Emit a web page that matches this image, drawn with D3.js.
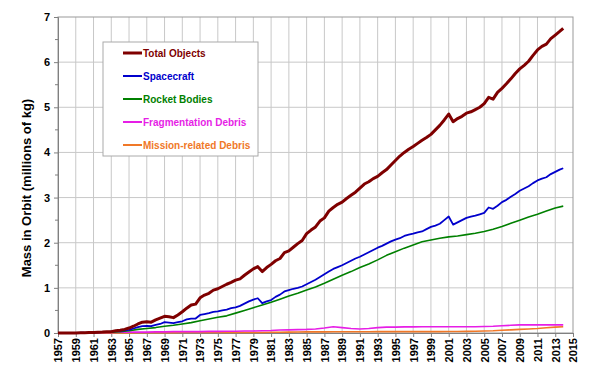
<!DOCTYPE html>
<html lang="en">
<head>
<meta charset="utf-8">
<title>Mass in Orbit</title>
<script src="https://cdn.jsdelivr.net/npm/d3@7"></script>
<style>
  body { margin: 0; background: #fff; }
  text { font-family: "Liberation Sans", Arial, sans-serif; font-weight: bold; }
</style>
</head>
<body>
<script>
// half-year samples for the two noisy series
var halfYears = d3.range(1957, 2014.01, 0.5);
var totalObjects = [
  0.00, 0.00, 0.00, 0.00, 0.00, 0.005, 0.005, 0.01, 0.01, 0.015,
  0.02, 0.03, 0.03, 0.05, 0.06, 0.08, 0.11, 0.15, 0.20, 0.24,
  0.25, 0.24, 0.29, 0.33, 0.37, 0.36, 0.34, 0.40, 0.47, 0.55,
  0.62, 0.64, 0.78, 0.84, 0.88, 0.95, 0.98, 1.03, 1.08, 1.12,
  1.17, 1.20, 1.28, 1.35, 1.42, 1.47, 1.36, 1.45, 1.52, 1.60,
  1.65, 1.78, 1.82, 1.90, 1.98, 2.05, 2.20, 2.28, 2.35, 2.48,
  2.55, 2.70, 2.78, 2.85, 2.90, 2.98, 3.05, 3.12, 3.21, 3.30,
  3.35, 3.42, 3.47, 3.55, 3.62, 3.72, 3.82, 3.92, 4.00, 4.07,
  4.13, 4.20, 4.27, 4.33, 4.40, 4.50, 4.60, 4.72, 4.85, 4.68,
  4.75, 4.80, 4.87, 4.90, 4.95, 5.00, 5.08, 5.22, 5.18, 5.33,
  5.42, 5.52, 5.63, 5.75, 5.85, 5.93, 6.02, 6.15, 6.27, 6.35,
  6.40, 6.52, 6.60, 6.68, 6.75
];
var spacecraft = [
  0.00, 0.00, 0.00, 0.00, 0.00, 0.005, 0.005, 0.01, 0.01, 0.015,
  0.02, 0.02, 0.03, 0.04, 0.05, 0.06, 0.07, 0.10, 0.13, 0.15,
  0.16, 0.15, 0.18, 0.20, 0.24, 0.23, 0.22, 0.24, 0.26, 0.30,
  0.32, 0.32, 0.40, 0.42, 0.44, 0.47, 0.48, 0.50, 0.52, 0.55,
  0.57, 0.60, 0.65, 0.70, 0.74, 0.77, 0.66, 0.70, 0.73, 0.80,
  0.85, 0.92, 0.95, 0.98, 1.00, 1.03, 1.08, 1.13, 1.18, 1.24,
  1.30, 1.36, 1.42, 1.46, 1.50, 1.55, 1.60, 1.65, 1.69, 1.74,
  1.79, 1.84, 1.89, 1.93, 1.98, 2.03, 2.07, 2.10, 2.15, 2.18,
  2.20, 2.23, 2.25, 2.30, 2.35, 2.38, 2.42, 2.50, 2.58, 2.40,
  2.45, 2.50, 2.55, 2.58, 2.60, 2.63, 2.66, 2.78, 2.75, 2.82,
  2.90, 2.95, 3.02, 3.08, 3.15, 3.20, 3.25, 3.32, 3.38, 3.42,
  3.45, 3.52, 3.57, 3.62, 3.65
];
// yearly samples for the smooth series
var years = d3.range(1957, 2015);
var rocketBodies = [
  0.00, 0.00, 0.00, 0.005, 0.01, 0.015, 0.02, 0.03, 0.05, 0.08,
  0.10, 0.12, 0.15, 0.17, 0.20, 0.23, 0.27, 0.31, 0.35, 0.38,
  0.44, 0.50, 0.56, 0.62, 0.68, 0.75, 0.82, 0.88, 0.95, 1.02,
  1.10, 1.19, 1.28, 1.36, 1.45, 1.53, 1.62, 1.72, 1.80, 1.88,
  1.95, 2.02, 2.06, 2.10, 2.13, 2.15, 2.18, 2.21, 2.25, 2.30,
  2.36, 2.43, 2.50, 2.57, 2.63, 2.70, 2.77, 2.81
];
var fragDebris = [
  0.00, 0.00, 0.00, 0.00, 0.005, 0.01, 0.01, 0.015, 0.02, 0.02,
  0.02, 0.025, 0.025, 0.03, 0.03, 0.03, 0.03, 0.035, 0.035, 0.04,
  0.04, 0.045, 0.045, 0.05, 0.055, 0.065, 0.07, 0.075, 0.08, 0.09,
  0.11, 0.14, 0.12, 0.10, 0.09, 0.10, 0.12, 0.13, 0.13, 0.135,
  0.135, 0.14, 0.14, 0.14, 0.14, 0.14, 0.14, 0.14, 0.145, 0.15,
  0.16, 0.17, 0.18, 0.18, 0.18, 0.18, 0.18, 0.18
];
var missionDebris = [
  0.00, 0.00, 0.00, 0.00, 0.00, 0.00, 0.00, 0.00, 0.00, 0.005,
  0.005, 0.005, 0.008, 0.008, 0.01, 0.01, 0.01, 0.01, 0.01, 0.01,
  0.01, 0.012, 0.012, 0.012, 0.015, 0.018, 0.02, 0.022, 0.025, 0.025,
  0.025, 0.027, 0.027, 0.028, 0.028, 0.028, 0.03, 0.03, 0.03, 0.03,
  0.03, 0.03, 0.03, 0.03, 0.032, 0.033, 0.035, 0.04, 0.045, 0.05,
  0.06, 0.07, 0.08, 0.09, 0.10, 0.115, 0.13, 0.14
];
var seriesNames = ["Total Objects", "Spacecraft", "Rocket Bodies", "Fragmentation Debris", "Mission-related Debris"];
var seriesColors = ["#7f0000", "#0000cc", "#008000", "#e61ee6", "#f07828"];
var xTickYears = d3.range(1957, 2016, 2);
var yTicks = [0, 1, 2, 3, 4, 5, 6, 7];

var w = 600, h = 374;
var plotLeft = 58, plotRight = 573, plotTop = 17, plotBottom = 333;

var x = d3.scaleLinear().domain([1957, 2015]).range([plotLeft, plotRight]);
var y = d3.scaleLinear().domain([0, 7]).range([plotBottom, plotTop]);

var svg = d3.select("body").append("svg")
    .attr("width", w)
    .attr("height", h);

// grid
svg.append("g").selectAll("line")
    .data(xTickYears.slice(1, -1))
  .enter().append("line")
    .attr("x1", function(d) { return x(d); }).attr("x2", function(d) { return x(d); })
    .attr("y1", plotTop).attr("y2", plotBottom)
    .attr("stroke", "#c8c8c8").attr("stroke-width", 1);
svg.append("g").selectAll("line")
    .data(yTicks.slice(1, -1))
  .enter().append("line")
    .attr("x1", plotLeft).attr("x2", plotRight)
    .attr("y1", function(d) { return y(d); }).attr("y2", function(d) { return y(d); })
    .attr("stroke", "#c8c8c8").attr("stroke-width", 1);

// frame
svg.append("rect")
    .attr("x", plotLeft).attr("y", plotTop)
    .attr("width", plotRight - plotLeft).attr("height", plotBottom - plotTop)
    .attr("fill", "none").attr("stroke", "#999").attr("stroke-width", 1);

// axes
var xAxis = d3.axisBottom(x).tickValues(xTickYears).tickFormat(d3.format("d")).tickSize(4);
var gx = svg.append("g").attr("transform", "translate(0," + plotBottom + ")").call(xAxis);
gx.select(".domain").attr("stroke", "#808080");
gx.selectAll(".tick line").attr("stroke", "#808080");
gx.selectAll(".tick text")
    .attr("transform", "rotate(-90)")
    .attr("x", -5).attr("y", 0).attr("dy", "0.35em")
    .attr("text-anchor", "end")
    .attr("font-size", 11).attr("fill", "#000");

var yAxis = d3.axisLeft(y).tickValues(yTicks).tickFormat(d3.format("d")).tickSize(4);
var gy = svg.append("g").attr("transform", "translate(" + plotLeft + ",0)").call(yAxis);
gy.select(".domain").attr("stroke", "#808080");
gy.selectAll(".tick line").attr("stroke", "#808080");
gy.selectAll(".tick text").attr("x", -8).attr("font-size", 11).attr("fill", "#000");
// minor y ticks
svg.append("g").selectAll("line")
    .data(d3.range(0.5, 7, 1))
  .enter().append("line")
    .attr("x1", plotLeft - 3).attr("x2", plotLeft)
    .attr("y1", function(d) { return y(d); }).attr("y2", function(d) { return y(d); })
    .attr("stroke", "#808080");

svg.append("text")
    .attr("transform", "translate(31,188) rotate(-90)")
    .attr("text-anchor", "middle")
    .attr("font-size", 13)
    .text("Mass in Orbit (millions of kg)");

// series
var line = d3.line()
    .x(function(d) { return x(d[0]); })
    .y(function(d) { return y(d[1]); });

var series = [
  { xs: years, ys: missionDebris, c: 4, w: 1.6 },
  { xs: years, ys: fragDebris, c: 3, w: 1.6 },
  { xs: years, ys: rocketBodies, c: 2, w: 1.6 },
  { xs: halfYears, ys: spacecraft, c: 1, w: 1.8 },
  { xs: halfYears, ys: totalObjects, c: 0, w: 3 }
];
series.forEach(function(s) {
  var pts = s.ys.map(function(v, i) {
    var xv = s.xs[i];
    if (xv >= 2014) xv = 2013.9;
    return [xv, v];
  });
  svg.append("path")
      .datum(pts)
      .attr("d", line)
      .attr("fill", "none")
      .attr("stroke", seriesColors[s.c])
      .attr("stroke-width", s.w)
      .attr("stroke-linejoin", "round");
});

// legend
var lg = svg.append("g");
lg.append("rect")
    .attr("x", 103).attr("y", 42).attr("width", 155).attr("height", 114)
    .attr("fill", "#fff").attr("stroke", "#aaa").attr("stroke-width", 1);
var rowY = d3.scalePoint().domain(seriesNames).range([53, 145]);
seriesNames.forEach(function(n, i) {
  lg.append("line")
      .attr("x1", 123).attr("x2", 142)
      .attr("y1", rowY(n)).attr("y2", rowY(n))
      .attr("stroke", seriesColors[i]).attr("stroke-width", i === 0 ? 3 : 2);
  lg.append("text")
      .attr("x", 143).attr("y", rowY(n)).attr("dy", "0.35em")
      .attr("font-size", 10)
      .attr("fill", seriesColors[i])
      .text(n);
});
</script>
</body>
</html>
